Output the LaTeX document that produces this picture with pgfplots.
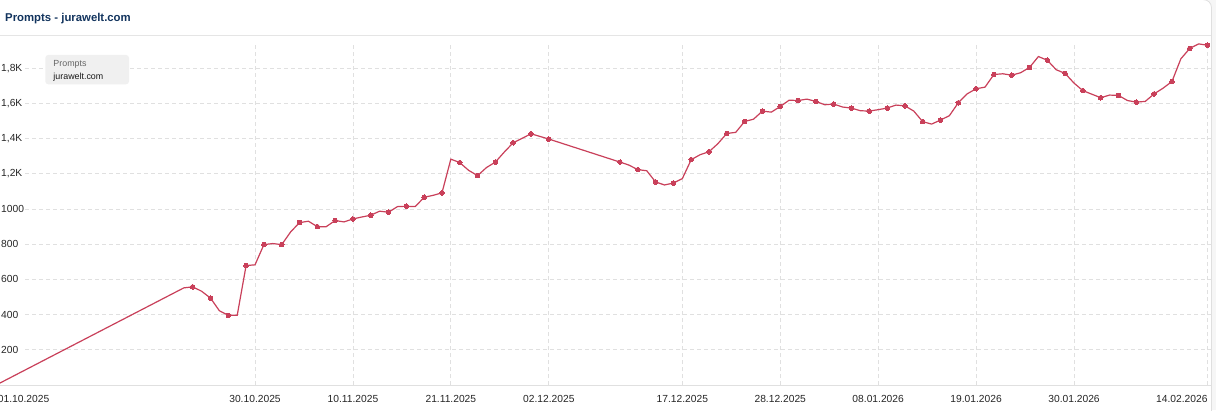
\documentclass[border=0pt]{standalone}
\usepackage{pgfplots}
\pgfplotsset{compat=1.18}
\usepackage{fontspec}
\setmainfont{Liberation Sans}
\definecolor{linered}{RGB}{201,64,90}
\definecolor{gridgray}{RGB}{224,224,224}
\definecolor{navy}{RGB}{18,52,94}
\begin{document}
\begin{tikzpicture}[x=1bp,y=1bp]
\path[use as bounding box] (0,0) rectangle (1216,410);
\fill[gray!7] (0,0) rectangle (1216,410);
\filldraw[fill=white, draw=gray!25, line width=0.8bp, rounded corners=8bp] (-10,-10) rectangle (1211.5,410.4);
\draw[gray!20, line width=0.8bp] (0,375) -- (1211.1,375);
\begin{axis}[
 at={(25bp,25bp)}, anchor=south west, scale only axis,
 width=1187bp, height=342bp,
 xmin=3.163, xmax=136.5, ymin=0, ymax=1944,
 clip=false,
 axis line style={draw=none},
 major tick length=0pt,
 xtick={29,40,51,62,77,88,99,110,121,136},
 xticklabels={30.10.2025,10.11.2025,21.11.2025,02.12.2025,17.12.2025,28.12.2025,08.01.2026,19.01.2026,30.01.2026,\makebox[0pt][r]{14.02.2026}},
 ytick={200,400,600,800,1000,1200,1400,1600,1800},
 yticklabels={200,400,600,800,1000,{1,2K},{1,4K},{1,6K},{1,8K}},
 xmajorgrids, ymajorgrids,
 major grid style={gridgray, line width=0.8bp, dash pattern=on 4bp off 3bp},
 tick label style={font=\fontsize{10.3}{12}\selectfont, text=black!85},
 xticklabel style={anchor=base, inner sep=0pt, yshift=-17.7bp},
 yticklabel style={anchor=west, inner sep=0pt, xshift=-24bp},
]
\addplot[linered, line width=1.2bp, mark=*, mark size=2.3bp,
  mark options={fill=linered, draw=linered, line width=0pt},
  mark indices={3,5,7,9,11,13,15,17,19,21,23,25,27,29,31,33,35,37,39,41,43,44,46,48,50,52,54,56,58,60,62,64,66,68,70,72,74,76,78,80,82,84,86,88,90,92,94,96,98,100,102,104,106,108,110}]
table[x=day,y=v] {
day v
0 2
21 552
22 558
23 533
24 494
25 422
26 396
27 396
28 679
29 683
30 798
31 804
32 798
33 870
34 923
35 931
36 900
37 900
38 935
39 927
40 944
41 955
42 965
43 988
44 982
45 1014
46 1016
47 1014
48 1067
49 1078
50 1092
51 1284
52 1264
53 1220
54 1190
55 1236
56 1267
57 1324
58 1377
59 1402
60 1428
61 1413
62 1398
70 1267
71 1250
72 1224
73 1218
74 1154
75 1137
76 1148
77 1173
78 1281
79 1309
80 1326
81 1372
82 1430
83 1436
84 1498
85 1511
86 1557
87 1551
88 1583
89 1619
90 1617
91 1625
92 1612
93 1593
94 1597
95 1580
96 1574
97 1559
98 1557
99 1565
100 1574
101 1591
102 1587
103 1557
104 1497
105 1483
106 1506
107 1531
108 1604
109 1655
110 1684
111 1693
112 1765
113 1769
114 1761
115 1775
116 1805
117 1867
118 1846
119 1792
120 1771
121 1716
122 1673
123 1653
124 1633
125 1648
126 1646
127 1617
128 1608
129 1612
130 1655
131 1687
132 1725
133 1854
134 1913
135 1939
136 1931
};
\end{axis}
\draw[gridgray, line width=0.9bp] (0,25) -- (1211.1,25);
\node[anchor=base west, inner sep=0pt, font=\fontsize{10.3}{12}\selectfont, text=black!85] at (-2.3,7.3) {01.10.2025};
\node[anchor=base west, inner sep=0pt, font=\fontsize{11.4}{13}\selectfont\bfseries, text=navy] at (5,388.3) {Prompts - jurawelt.com};
\fill[gray!12, rounded corners=3bp] (45.3,325.7) rectangle (129,355);
\node[anchor=base west, inner sep=0pt, font=\fontsize{8.9}{10}\selectfont, text=black!60] at (53.3,343.3) {Prompts};
\node[anchor=base west, inner sep=0pt, font=\fontsize{8.9}{10}\selectfont, text=black!90] at (53.3,331) {jurawelt.com};
\end{tikzpicture}
\end{document}
